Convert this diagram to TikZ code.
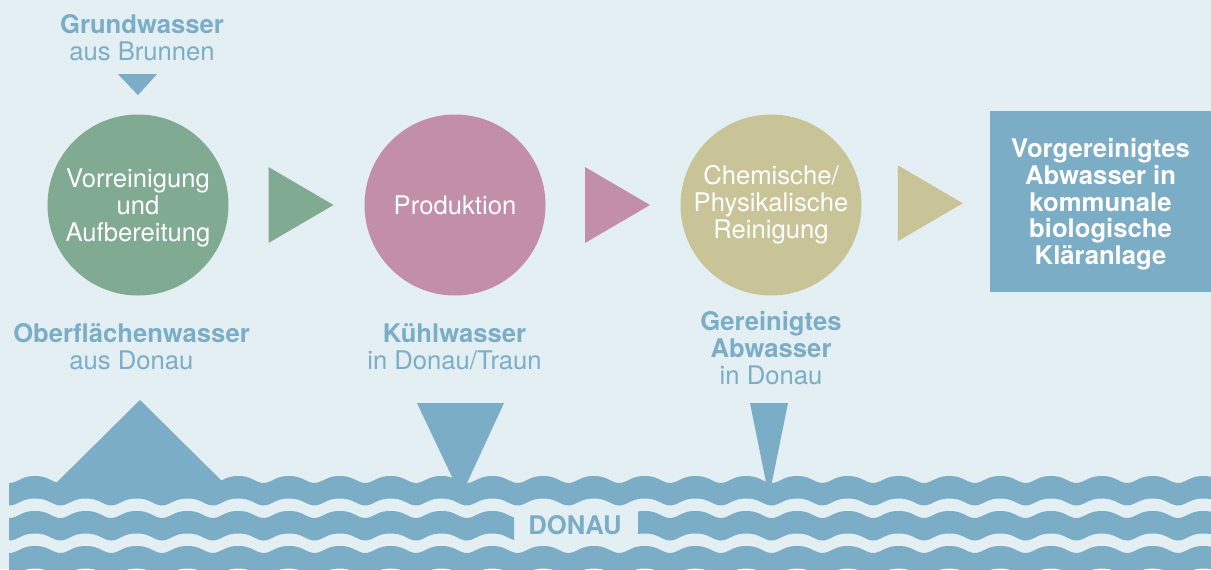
\documentclass[tikz,border=0pt]{standalone}
\usepackage{fontspec}
\setmainfont{TeX Gyre Heros}
\usepackage{tikz}
\usetikzlibrary{calc}
\definecolor{himmel}{RGB}{228,239,244}
\definecolor{donau}{RGB}{123,173,198}
\definecolor{gruen}{RGB}{128,170,146}
\definecolor{rosa}{RGB}{194,142,168}
\definecolor{oliv}{RGB}{201,196,151}

\begin{document}
\begin{tikzpicture}[x=0.2mm, y=-0.2mm,
  declare function={phase(\t)=7.0866*mod(\t-35,50.8);
    welle(\t)=cos(phase(\t))-0.15*cos(2*phase(\t))+0.15;},
  txt/.style={font=\fontsize{14.6}{15.3}\selectfont, align=center, inner sep=0pt},
  fett/.style={txt, font=\fontsize{14.6}{15.3}\selectfont\bfseries},
  stufe/.style={txt, circle, minimum size=36.2mm, text=white},
  quelle/.style={txt, text=donau}]
  \clip (0,0) rectangle (1211,569);
  \fill[himmel] (0,0) rectangle (1211,569);

  % Stufen der Wasseraufbereitung
  \node[stufe, fill=gruen, text depth=-0.3mm] (vorr) at (138,205) {Vorreinigung\\und\\Aufbereitung};
  \node[stufe, fill=rosa] (prod) at (455,205) {Produktion};
  \node[stufe, fill=oliv] (chem) at (771,205) {Chemische/\\Physikalische\\Reinigung};
  \node[fett, fill=donau, text=white, text depth=-0.9mm, minimum width=44.2mm, minimum height=36.2mm]
    (ziel) at (1100.5,201.5) {Vorgereinigtes\\Abwasser in\\kommunale\\biologische\\Kläranlage};

  % Pfeile zwischen den Stufen
  \foreach \a/\b/\farbe in {vorr/prod/gruen, prod/chem/rosa, chem/ziel/oliv}
    \fill[\farbe] ($(\a.east)!0.5!(\b.west)+(-28,-38)$) -- ($(\a.east)!0.5!(\b.west)+(37,0)$)
      -- ($(\a.east)!0.5!(\b.west)+(-28,38)$) -- cycle;

  % Zu- und Abfluesse
  \node[quelle] (grund) at (142,38) {\textbf{Grundwasser}\\aus Brunnen};
  \fill[donau] ($(vorr.north)+(-20,-40)$) -- ($(vorr.north)+(19,-40)$) -- ($(vorr.north)+(0,-19)$) -- cycle;
  \node[quelle] (ober) at (131.5,346.5) {\textbf{Oberflächenwasser}\\aus Donau};
  \node[quelle] (kuehl) at (454.5,346.5) {\textbf{Kühlwasser}\\in Donau/Traun};
  \node[quelle] (abw) at (771,348) {\textbf{Gereinigtes}\\\textbf{Abwasser}\\in Donau};
  \fill[donau] (140,400) -- (231,490) -- (49,490) -- cycle;
  \fill[donau] (417,403) -- (504,403) -- (461,496) -- cycle;
  \fill[donau] (750,403) -- (788,403) -- (769,497) -- cycle;

  % Donau als Wellenbaender
  \foreach \yo/\xa/\xb in {479.5/9/1220, 514.5/9/514, 514.5/638/1220, 549.5/9/1220}
    \fill[donau] plot[domain=\xa:\xb, samples=400] (\x,{\yo-3.5*welle(\x)})
      -- plot[domain=\xb:\xa, samples=400] (\x,{\yo+22.5-3.5*welle(\x)}) -- cycle;
  \node[fett, text=donau] (fluss) at (575,525) {DONAU};
\end{tikzpicture}
\end{document}
